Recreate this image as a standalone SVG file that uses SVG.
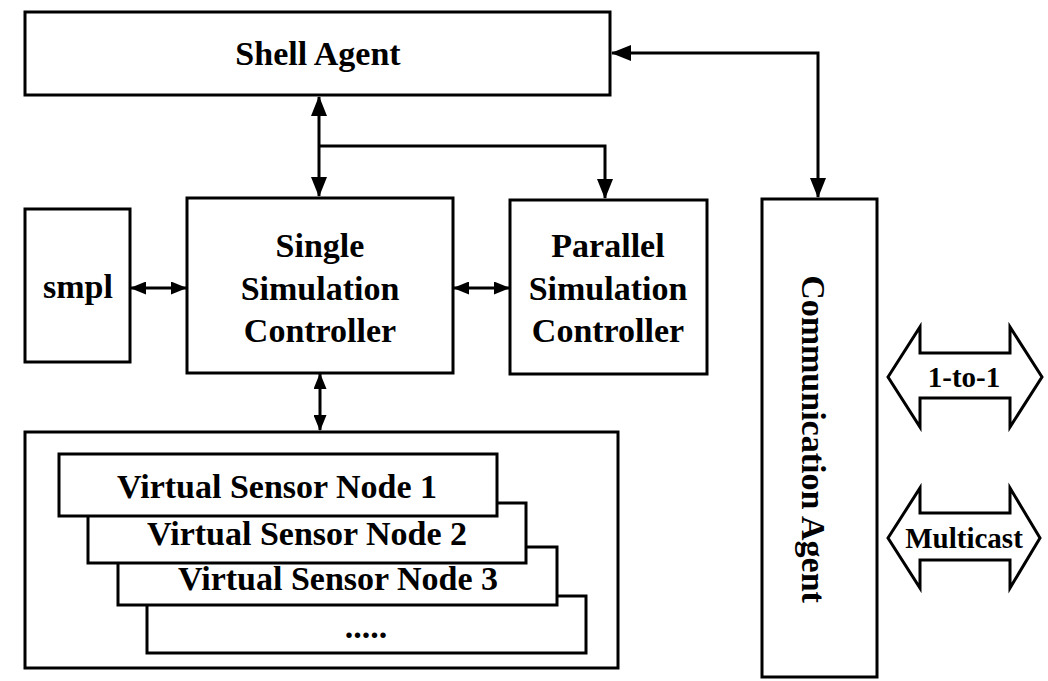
<svg xmlns="http://www.w3.org/2000/svg" width="1048" height="681" viewBox="0 0 1048 681">
<style>
.box{fill:#fff;stroke:#000;stroke-width:3}
.ln{fill:none;stroke:#000;stroke-width:3}
.t{font-family:"Liberation Serif","Times New Roman",serif;font-weight:bold;font-size:34px;fill:#000;text-anchor:middle}
.ts{font-size:29px}
</style>
<defs>
<marker id="ah" viewBox="0 0 20 16" refX="19" refY="8" markerWidth="20" markerHeight="16" markerUnits="userSpaceOnUse" orient="auto-start-reverse"><path d="M0,0 L20,8 L0,16 z" fill="#000"/></marker>
<marker id="ahs" viewBox="0 0 16 13" refX="15" refY="6.5" markerWidth="16" markerHeight="13" markerUnits="userSpaceOnUse" orient="auto-start-reverse"><path d="M0,0 L16,6.5 L0,13 z" fill="#000"/></marker>
</defs>
<rect width="1048" height="681" fill="#fff"/>
<g id="connectors">
<path class="ln" d="M319,97 L319,196" marker-start="url(#ah)" marker-end="url(#ah)"/>
<path class="ln" d="M319,146 L605,146 L605,198" marker-end="url(#ah)"/>
<path class="ln" d="M818,197 L818,53 L612,53" marker-start="url(#ah)" marker-end="url(#ah)"/>
<path class="ln" d="M131,288 L186,288" marker-start="url(#ahs)" marker-end="url(#ahs)"/>
<path class="ln" d="M454,288 L509,288" marker-start="url(#ahs)" marker-end="url(#ahs)"/>
<path class="ln" d="M320,374 L320,430" marker-start="url(#ahs)" marker-end="url(#ahs)"/>
</g>
<g id="shell-agent">
<rect class="box" x="25" y="12" width="585" height="83"/>
<text class="t" x="318" y="65">Shell Agent</text>
</g>
<g id="smpl">
<rect class="box" x="25" y="209" width="105" height="153"/>
<text class="t" x="78" y="298">smpl</text>
</g>
<g id="single-simulation-controller">
<rect class="box" x="187" y="198" width="266" height="175"/>
<text class="t" x="320" y="257">Single</text>
<text class="t" x="320" y="300">Simulation</text>
<text class="t" x="320" y="342">Controller</text>
</g>
<g id="parallel-simulation-controller">
<rect class="box" x="510" y="200" width="197" height="174"/>
<text class="t" x="608" y="257">Parallel</text>
<text class="t" x="608" y="300">Simulation</text>
<text class="t" x="608" y="342">Controller</text>
</g>
<g id="virtual-sensor-nodes">
<rect class="box" x="25" y="432" width="593" height="236"/>
<rect class="box" x="147" y="596" width="439" height="57"/>
<text class="t" x="366" y="638" font-size="26">.....</text>
<rect class="box" x="118" y="547" width="439" height="58"/>
<text class="t" x="338" y="590">Virtual Sensor Node 3</text>
<rect class="box" x="88" y="503" width="438" height="60"/>
<text class="t" x="307" y="545">Virtual Sensor Node 2</text>
<rect class="box" x="59" y="454" width="438" height="62"/>
<text class="t" x="277" y="498">Virtual Sensor Node 1</text>
</g>
<g id="communication-agent">
<rect class="box" x="762" y="199" width="115" height="478"/>
<text class="t" transform="translate(813,439) rotate(90)" x="0" y="0" dominant-baseline="central">Communication Agent</text>
</g>
<g id="one-to-one">
<polygon class="box" stroke-width="2.5" points="888,377 920,327 920,353 1010,353 1010,327 1042,377 1010,427 1010,398 920,398 920,427"/>
<text class="t ts" x="964" y="387">1-to-1</text>
</g>
<g id="multicast">
<polygon class="box" stroke-width="2.5" points="888,538 920,488 920,513 1010,513 1010,488 1040,538 1010,588 1010,560 920,560 920,588"/>
<text class="t ts" x="964" y="548">Multicast</text>
</g>
</svg>
